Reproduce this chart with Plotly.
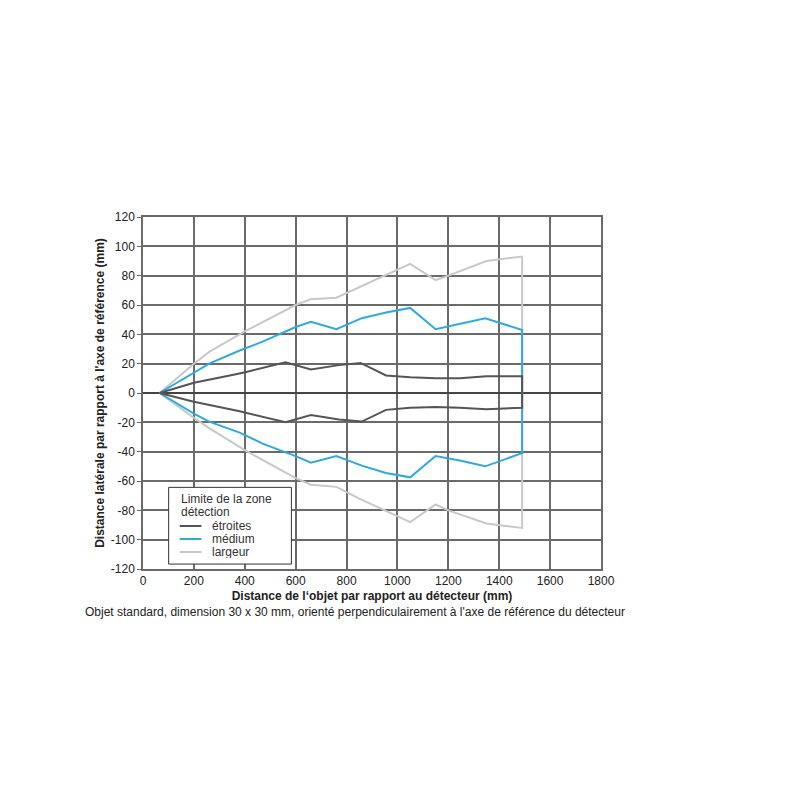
import plotly.graph_objects as go

# ---- data ----
etroites_up_x = [65, 200, 370, 410, 560, 660, 770, 855, 955, 1050, 1150, 1245, 1350, 1490]
etroites_up_y = [0, 7, 13, 14.5, 21, 16, 19, 20.5, 12, 10.7, 10, 10, 11.5, 11.5]
etroites_lo_x = [65, 200, 380, 560, 660, 770, 860, 955, 1050, 1150, 1245, 1350, 1490]
etroites_lo_y = [0, -6, -12.5, -20, -15, -18, -19.5, -11.5, -10, -9.5, -10, -11, -10]

medium_up_x = [65, 200, 260, 380, 470, 600, 660, 760, 860, 960, 1050, 1150, 1245, 1345, 1490]
medium_up_y = [0, 14, 20, 29, 35, 45, 48.5, 43.5, 51, 55, 58, 43.5, 47, 51, 43]
medium_lo_x = [65, 200, 260, 380, 470, 600, 660, 760, 860, 955, 1050, 1150, 1245, 1345, 1490]
medium_lo_y = [0, -14, -19.5, -27, -34.5, -43, -47.5, -43, -49.5, -54.5, -57.5, -43, -46, -50, -41]

largeur_up_x = [65, 200, 260, 400, 600, 660, 760, 850, 950, 1050, 1150, 1200, 1350, 1490]
largeur_up_y = [0, 20, 28, 42, 60, 64, 65, 72, 80, 88, 77, 80, 90, 93]
largeur_lo_x = [65, 200, 260, 400, 600, 660, 760, 850, 950, 1050, 1150, 1200, 1350, 1490]
largeur_lo_y = [0, -17, -24, -39, -58, -62.5, -64, -72, -80, -88, -76, -80, -89, -92]

series_names = ["étroites", "médium", "largeur"]
x_ticks = [0, 200, 400, 600, 800, 1000, 1200, 1400, 1600, 1800]
y_ticks = [120, 100, 80, 60, 40, 20, 0, -20, -40, -60, -80, -100, -120]

x_title = "Distance de l‘objet par rapport au détecteur (mm)"
y_title = "Distance latérale par rapport à l'axe de référence (mm)"
legend_title_lines = ["Limite de la zone", "détection"]
footnote = "Objet standard, dimension 30 x 30 mm, orienté perpendiculairement à l'axe de référence du détecteur"

colors = ["#555555", "#2aace2", "#c8c8c8"]

data_sets = [
    (etroites_up_x, etroites_up_y, etroites_lo_x, etroites_lo_y),
    (medium_up_x, medium_up_y, medium_lo_x, medium_lo_y),
    (largeur_up_x, largeur_up_y, largeur_lo_x, largeur_lo_y),
]

fig = go.Figure()
for i in [2, 1, 0]:
    ux, uy, lx, ly = data_sets[i]
    xs = list(ux) + list(reversed(lx))
    ys = list(uy) + list(reversed(ly))
    fig.add_trace(go.Scatter(
        x=xs, y=ys, mode="lines", name=series_names[i],
        line=dict(color=colors[i], width=2),
        showlegend=False,
    ))

grid_c = "#6a6a6a"
font_family = "Liberation Sans, Arial, sans-serif"
txt_c = "#222"
leg_fs = 11

# ---- custom legend (paper coordinates) ----
shapes = [dict(type="rect", xref="paper", yref="paper",
               x0=0.056, x1=0.324, y0=0.014, y1=0.232,
               fillcolor="white", line=dict(color="#333", width=1), layer="above")]
annotations = []
title_y = [0.1989, 0.1619]
for t, yy in zip(legend_title_lines, title_y):
    annotations.append(dict(text=t, xref="paper", yref="paper", x=0.078, y=yy,
                            xanchor="left", yanchor="middle", showarrow=False,
                            font=dict(size=leg_fs + 1, color="#333")))
entry_y = [0.1222, 0.0852, 0.0483]
for name, c, yy in zip(series_names, colors, entry_y):
    shapes.append(dict(type="line", xref="paper", yref="paper",
                       x0=0.0802, x1=0.1276, y0=yy, y1=yy,
                       line=dict(color=c, width=2), layer="above"))
    annotations.append(dict(text=name, xref="paper", yref="paper", x=0.147, y=yy,
                            xanchor="left", yanchor="middle", showarrow=False,
                            font=dict(size=leg_fs + 1, color="#333"), height=12))

annotations.append(dict(
    text=footnote, xref="paper", yref="paper",
    x=-0.13, y=-0.122, xanchor="left", yanchor="middle",
    showarrow=False, font=dict(size=12, color=txt_c),
))

fig.update_layout(
    width=800, height=800,
    paper_bgcolor="white", plot_bgcolor="white",
    margin=dict(l=135, r=207, t=209, b=239),
    font=dict(family=font_family, size=12, color=txt_c),
    showlegend=False,
    xaxis=dict(
        range=[0, 1800], tickvals=x_ticks, ticktext=[str(v) for v in x_ticks],
        showgrid=True, gridcolor=grid_c, gridwidth=1.5,
        zeroline=False, showline=True, linecolor=grid_c, linewidth=1.5, mirror=True,
        ticks="", tickfont=dict(size=12, color=txt_c),
        title=dict(text="<b>" + x_title + "</b>", font=dict(size=12, color=txt_c), standoff=4),
    ),
    yaxis=dict(
        range=[-120, 120], tickvals=y_ticks, ticktext=[str(v) for v in y_ticks],
        showgrid=True, gridcolor=grid_c, gridwidth=1.5,
        zeroline=True, zerolinecolor="#444", zerolinewidth=1.5,
        showline=True, linecolor=grid_c, linewidth=1.5, mirror=True,
        ticks="outside", ticklen=4, tickcolor=grid_c,
        tickfont=dict(size=12, color=txt_c),
        title=dict(text="<b>" + y_title + "</b>", font=dict(size=12, color=txt_c), standoff=4),
    ),
    shapes=shapes,
    annotations=annotations,
)

fig.write_html("out.html")
